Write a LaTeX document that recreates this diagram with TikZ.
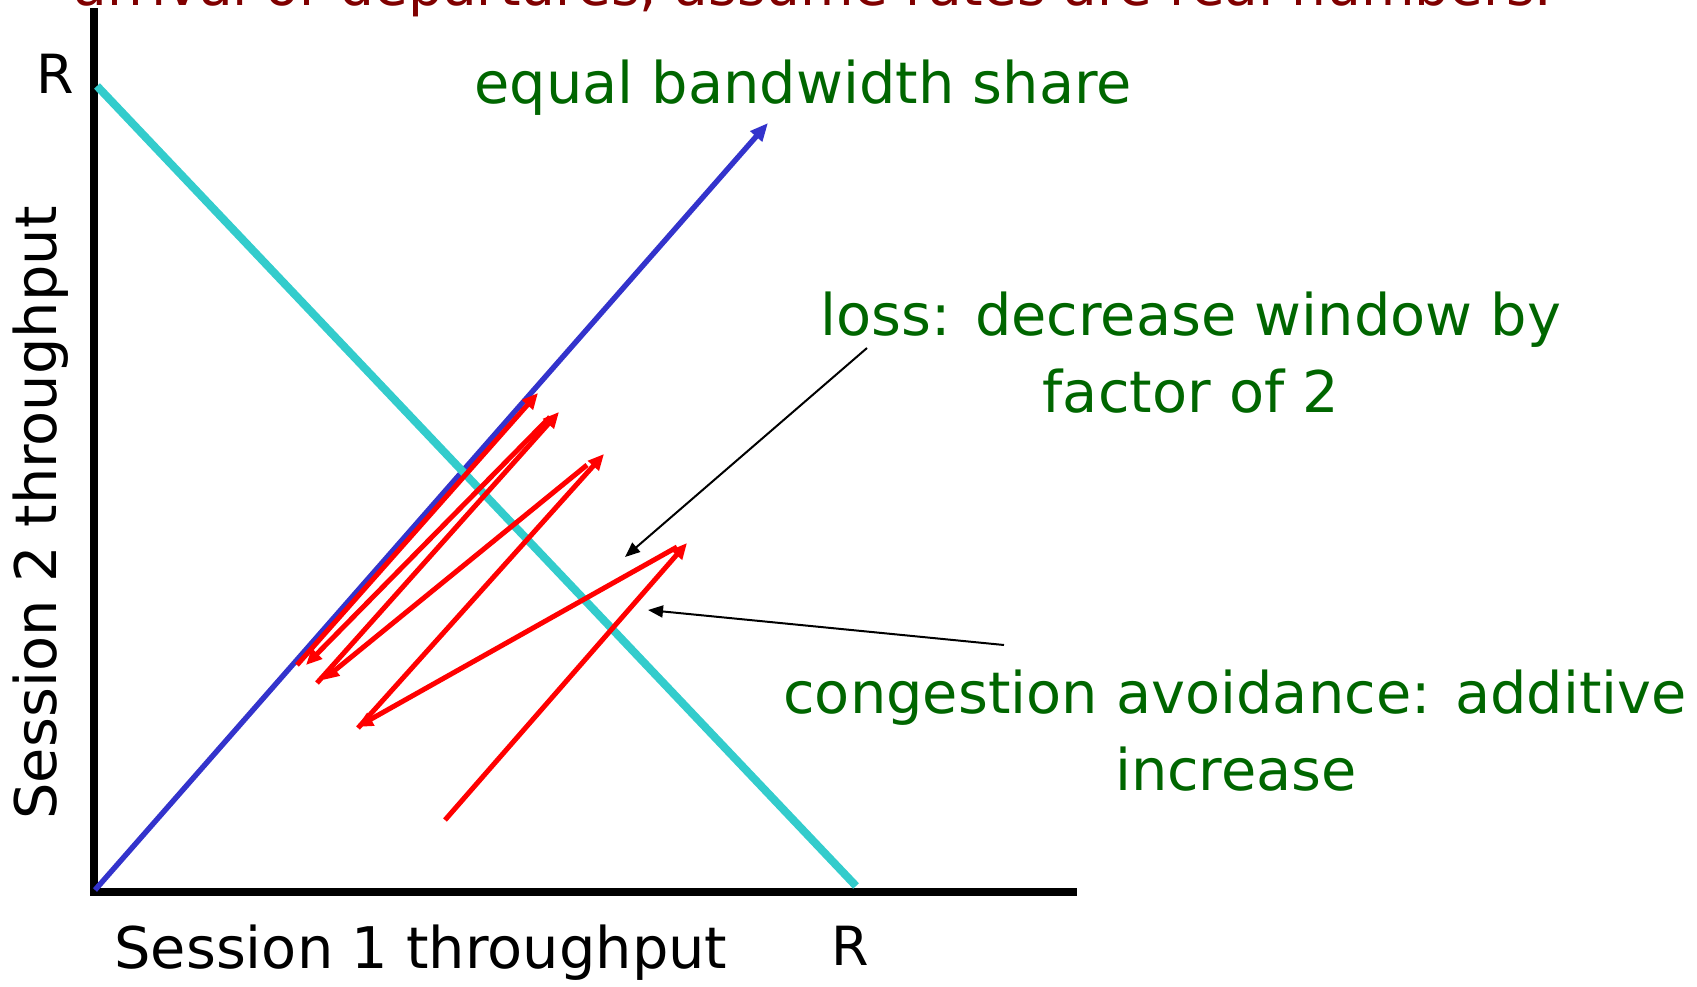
\documentclass[tikz,border=0pt]{standalone}
\usepackage{fontspec}
\setmainfont{DejaVu Sans}
\usetikzlibrary{arrows.meta}
\definecolor{tcyan}{HTML}{33CCCC}
\definecolor{tblue}{HTML}{3333CC}
\definecolor{tred}{HTML}{FF0000}
\definecolor{tgreen}{HTML}{006600}
\definecolor{tdred}{HTML}{800000}
\begin{document}
\begin{tikzpicture}[x=0.5pt,y=-0.5pt,
  lbl/.style={inner sep=0pt, font=\fontsize{28.7}{34}\selectfont},
  greenlbl/.style={lbl, text=tgreen, anchor=base},
  axisline/.style={line width=4pt, black, line join=miter},
  redarr/.style={tred, line width=2.5pt, -{Triangle[length=8pt,width=7pt]}},
  blkarr/.style={black, line width=1pt, -{Triangle[length=7.5pt,width=6pt]}},
]
\useasboundingbox (0,0) rectangle (1697,986);
\clip (0,0) rectangle (1697,986);
% cut-off title line
\node[lbl, text=tdred, anchor=base west, font=\fontsize{27.5}{33}\selectfont] (note) at (73,5) {arrival or departures, assume rates are real numbers.};
% axes
\coordinate (ytop) at (94,8);
\coordinate (O) at (94,892);
\coordinate (xend) at (1077,892);
\draw[axisline] (ytop) -- (O) -- (xend);
% equal share line
\coordinate (e0) at (95,890);
\coordinate (e1) at (768,123);
\draw[tblue, line width=2.7pt, -{Triangle[length=9pt,width=7.5pt]}] (e0) -- (e1);
% full utilisation line
\coordinate (f0) at (97,86);
\coordinate (f1) at (856,886);
\draw[tcyan, line width=4pt] (f0) -- (f1);
% AIMD trajectory
\coordinate (a0) at (445,820);
\coordinate (b1) at (687,543);
\coordinate (s2) at (677,547);
\coordinate (b2) at (357,727);
\coordinate (s3) at (358,728);
\coordinate (b3) at (604,454);
\coordinate (s4) at (587,465);
\coordinate (b4) at (323,680);
\coordinate (s5) at (317,683);
\coordinate (b5) at (559,412);
\coordinate (s6) at (550,417);
\coordinate (b6) at (306,665);
\coordinate (s7) at (297,665);
\coordinate (b7) at (538,393);
\draw[redarr] (a0) -- (b1);
\draw[redarr] (s2) -- (b2);
\draw[redarr] (s3) -- (b3);
\draw[redarr] (s4) -- (b4);
\draw[redarr] (s5) -- (b5);
\draw[redarr] (s6) -- (b6);
\draw[redarr] (s7) -- (b7);
% labels
\node[lbl, anchor=base west, font=\fontsize{27}{32}\selectfont] (ry) at (36,93) {R};
\node[lbl, anchor=base west, font=\fontsize{27}{32}\selectfont] (rx) at (831,965) {R};
\node[lbl, anchor=base west] (xlab) at (114,968) {Session 1 throughput};
\node[lbl, anchor=base, rotate=90] (ylab) at (56,513) {Session 2 throughput};
\node[greenlbl] (eq) at (803,103) {equal bandwidth share};
\node[greenlbl] (loss1) at (1191,335) {loss: decrease window by};
\node[greenlbl] (loss2) at (1191,412) {factor of 2};
\node[greenlbl] (cong1) at (1235,713) {congestion avoidance: additive};
\node[greenlbl] (cong2) at (1236,790) {increase};
% annotation arrows
\coordinate (l0) at (867,348);
\coordinate (l1) at (625,557);
\coordinate (c0) at (1004,645);
\coordinate (c1) at (648,610);
\draw[blkarr] (l0) -- (l1);
\draw[blkarr] (c0) -- (c1);
\end{tikzpicture}
\end{document}
